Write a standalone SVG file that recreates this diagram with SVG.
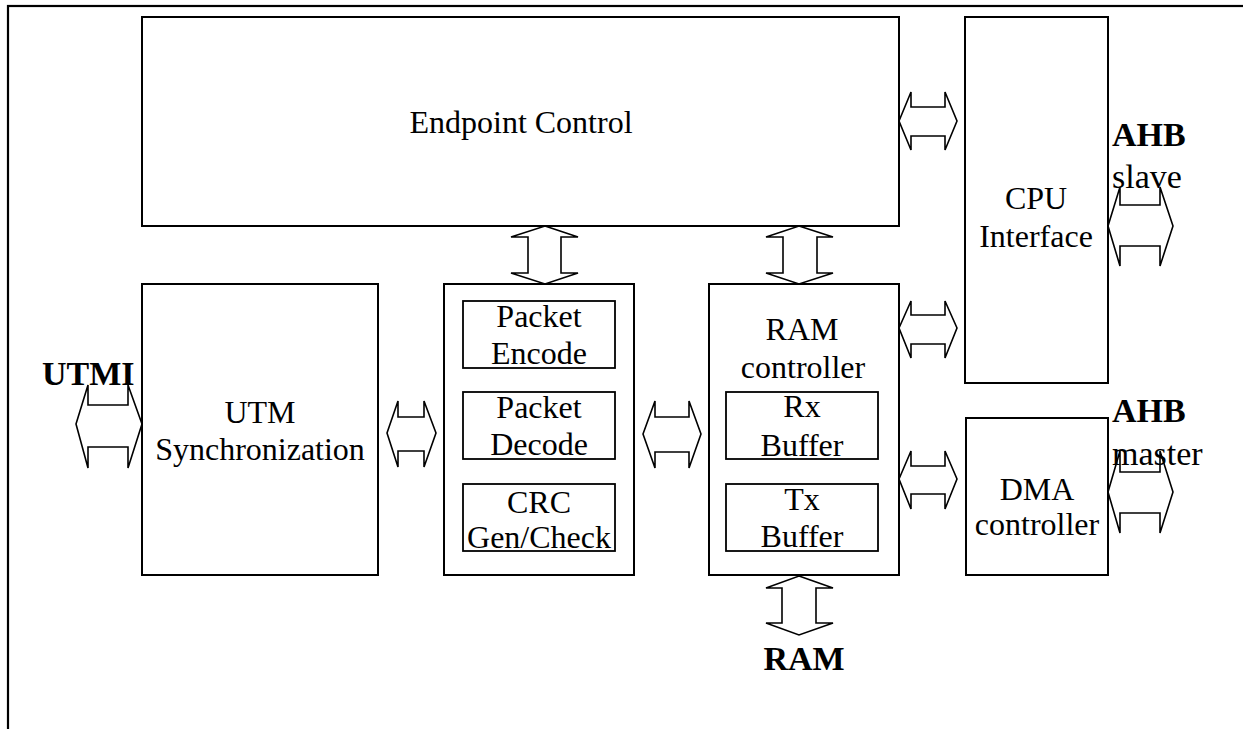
<svg xmlns="http://www.w3.org/2000/svg" width="1243" height="729" viewBox="0 0 1243 729">
<style>
.box{fill:none;stroke:#000;stroke-width:2}
.sub{fill:none;stroke:#000;stroke-width:1.8}
.arr{fill:#fff;stroke:#000;stroke-width:1.6;stroke-linejoin:miter}
.t{font-family:"Liberation Serif","Times New Roman",serif;font-size:32px;fill:#000;text-anchor:middle}
.b{font-family:"Liberation Serif","Times New Roman",serif;font-size:34px;font-weight:bold;fill:#000}
.l{font-family:"Liberation Serif","Times New Roman",serif;font-size:34px;fill:#000}
</style>
<rect x="0" y="0" width="1243" height="729" fill="#fff"/>
<rect id="frame" x="8" y="6" width="1245" height="735" fill="none" stroke="#000" stroke-width="2.2"/>
<g id="connectors">
<polygon class="arr" points="899,121 911,92 911,107 945,107 945,92 957,121 945,150 945,136 911,136 911,150"/>
<polygon class="arr" points="899,328 911,301 911,315 945,315 945,301 957,328 945,358 945,344 911,344 911,358"/>
<polygon class="arr" points="899,479 911,451 911,466 945,466 945,451 957,479 945,509 945,494 911,494 911,509"/>
<polygon class="arr" points="1108,226 1120,187 1120,205 1160,205 1160,187 1173,226 1160,266 1160,246 1120,246 1120,266"/>
<polygon class="arr" points="1108,492 1120,451 1120,472 1160,472 1160,451 1173,492 1160,533 1160,513 1120,513 1120,533"/>
<polygon class="arr" points="76,424 88,385 88,405 128,405 128,385 142,424 128,468 128,447 88,447 88,468"/>
<polygon class="arr" points="387,433 398,401 398,417 424,417 424,401 436,433 424,467 424,451 398,451 398,467"/>
<polygon class="arr" points="643,434 655,401 655,417 689,417 689,401 701,434 689,468 689,452 655,452 655,468"/>
<polygon class="arr" points="545,226 578,237 561,237 561,273 578,273 545,284 511,273 528,273 528,237 511,237"/>
<polygon class="arr" points="799,226 833,237 817,237 817,273 833,273 799,284 766,273 783,273 783,237 766,237"/>
<polygon class="arr" points="799,576 833,588 816,588 816,623 833,623 799,635 766,623 782,623 782,588 766,588"/>
</g>
<g id="endpoint-control">
<rect class="box" x="142" y="17" width="757" height="209"/>
<text class="t" x="521" y="133">Endpoint Control</text>
</g>
<g id="cpu-interface">
<rect class="box" x="965" y="17" width="143" height="366"/>
<text class="t" x="1036" y="209">CPU</text>
<text class="t" x="1036" y="247">Interface</text>
</g>
<g id="utm-sync">
<rect class="box" x="142" y="284" width="236" height="291"/>
<text class="t" x="260" y="423">UTM</text>
<text class="t" x="260" y="460">Synchronization</text>
</g>
<g id="packet-block">
<rect class="box" x="444" y="284" width="190" height="291"/>
</g>
<g id="packet-encode">
<rect class="sub" x="463" y="301" width="152" height="67"/>
<text class="t" x="539" y="327">Packet</text>
<text class="t" x="539" y="364">Encode</text>
</g>
<g id="packet-decode">
<rect class="sub" x="463" y="392" width="152" height="67"/>
<text class="t" x="539" y="418">Packet</text>
<text class="t" x="539" y="455">Decode</text>
</g>
<g id="crc">
<rect class="sub" x="463" y="484" width="152" height="67"/>
<text class="t" x="539" y="513">CRC</text>
<text class="t" x="539" y="548">Gen/Check</text>
</g>
<g id="ram-controller">
<rect class="box" x="709" y="284" width="190" height="291"/>
<text class="t" x="802" y="340">RAM</text>
<text class="t" x="803" y="378">controller</text>
</g>
<g id="rx-buffer">
<rect class="sub" x="726" y="392" width="152" height="67"/>
<text class="t" x="802" y="417">Rx</text>
<text class="t" x="802" y="456">Buffer</text>
</g>
<g id="tx-buffer">
<rect class="sub" x="726" y="484" width="152" height="67"/>
<text class="t" x="802" y="510">Tx</text>
<text class="t" x="802" y="547">Buffer</text>
</g>
<g id="dma-controller">
<rect class="box" x="966" y="418" width="142" height="157"/>
<text class="t" x="1037" y="500">DMA</text>
<text class="t" x="1037" y="535">controller</text>
</g>
<g id="labels">
<text class="b" x="42" y="385">UTMI</text>
<text class="b" x="1112" y="146">AHB</text>
<text class="l" x="1112" y="188">slave</text>
<text class="b" x="1112" y="422">AHB</text>
<text class="l" x="1112" y="465">master</text>
<text class="b" x="804" y="670" text-anchor="middle">RAM</text>
</g>
</svg>
